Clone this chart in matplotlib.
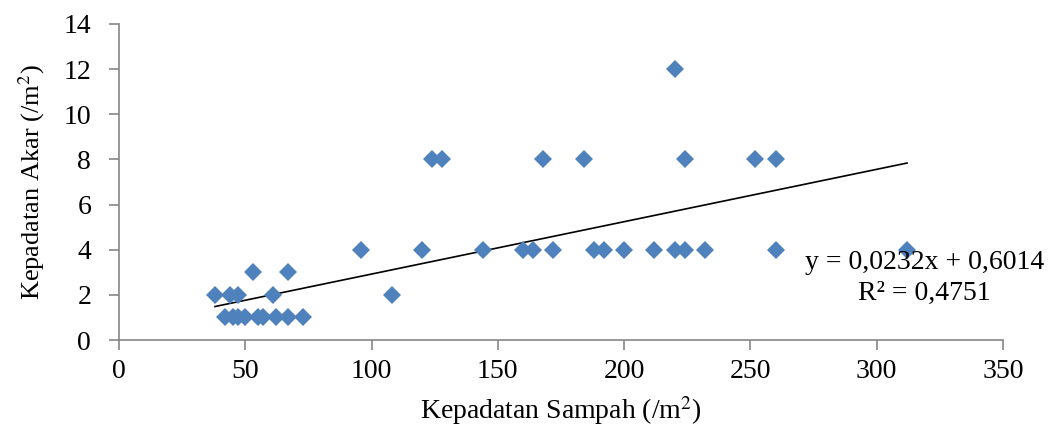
import matplotlib
matplotlib.use('Agg')
import matplotlib.pyplot as plt
import numpy as np

plt.rcParams['font.family'] = ['Liberation Serif', 'DejaVu Serif']
plt.rcParams['mathtext.fontset'] = 'stix'

# Kepadatan sampah (x) and kepadatan akar (y)
sampah = [42, 45, 47, 50, 55, 57, 62, 67, 73,
          38, 44, 47, 61, 108,
          53, 67,
          96, 120, 144, 160, 164, 172, 188, 192, 200, 212, 220, 224, 232, 260, 312,
          124, 128, 168, 184, 224, 252, 260,
          220]
akar = [1, 1, 1, 1, 1, 1, 1, 1, 1,
        2, 2, 2, 2, 2,
        3, 3,
        4, 4, 4, 4, 4, 4, 4, 4, 4, 4, 4, 4, 4, 4, 4,
        8, 8, 8, 8, 8, 8, 8,
        12]

slope = 0.0232
intercept = 0.6014
r2 = 0.4751

xticks = [0, 50, 100, 150, 200, 250, 300, 350]
yticks = [0, 2, 4, 6, 8, 10, 12, 14]

fig = plt.figure(figsize=(10.55, 4.3), dpi=100)
ax = fig.add_axes([0.1128, 0.2093, 0.8379, 0.7349])

ax.plot(sampah, akar, 'D', color='#4F81BD', markersize=9.5,
        markeredgewidth=0, zorder=3)

xs = np.array([min(sampah), max(sampah)])
ax.plot(xs, slope * xs + intercept, color='black', lw=1.2, zorder=2)

# equation label, centred just right of the last point
ax.text(319, 3.45, 'y = 0,0232x + 0,6014', ha='center', va='center',
        fontsize=20, clip_on=False, zorder=4)
ax.text(319, 2.08, 'R² = 0,4751', ha='center', va='center',
        fontsize=20, clip_on=False, zorder=4)

ax.set_xlim(0, 350)
ax.set_ylim(0, 14)
ax.set_xticks(xticks)
ax.set_yticks(yticks)
ax.tick_params(labelsize=20, colors='#868686', labelcolor='black',
               length=7, width=1.2, direction='out')
ax.tick_params(axis='y', pad=13)
ax.tick_params(axis='x', pad=7)

for s in ['top', 'right']:
    ax.spines[s].set_visible(False)
for s in ['left', 'bottom']:
    ax.spines[s].set_color('#868686')
    ax.spines[s].set_linewidth(1.2)

ax.set_xlabel('Kepadatan Sampah (/m$^2$)', fontsize=20, labelpad=7)
ax.set_ylabel('Kepadatan Akar (/m$^2$)', fontsize=19, labelpad=12)

plt.savefig('out.png', dpi=100)
plt.close()
